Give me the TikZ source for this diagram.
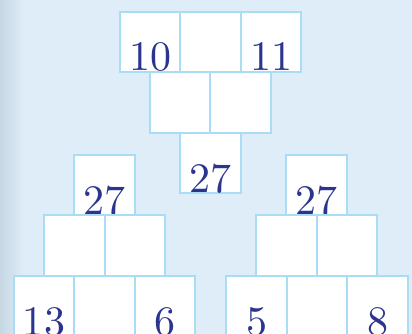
\documentclass[tikz,border=0pt]{standalone}
\usepackage{fontspec}
\usepackage{tikz}
\usetikzlibrary{positioning}

\newfontfamily\numfont{lmroman10-regular.otf}

\definecolor{bgblue}{HTML}{DFEDF9}
\definecolor{edgeblue}{HTML}{C6D6E2}
\definecolor{cellline}{HTML}{A9DDF6}
\definecolor{numblue}{HTML}{2B3590}

\begin{document}
\begin{tikzpicture}[
        x=1pt, y=-1pt,
        cell/.style={draw=cellline, fill=white, line width=2pt, inner sep=0pt,
            minimum width=60.5pt, minimum height=60.5pt,
            text height=59pt, text depth=1pt, text=numblue,
            font=\numfont\fontsize{42}{42}\selectfont},
    ]
    \useasboundingbox (0,0) rectangle (412,334);
    \clip (0,0) rectangle (412,334);
    \fill[bgblue] (0,0) rectangle (412,334);
    \shade[left color=edgeblue, right color=bgblue] (0,0) rectangle (24,334);

    % upper pyramid
    \node[cell] (upA) at (150,42)    {10};
    \node[cell] (upB) at (210.5,42)  {};
    \node[cell] (upC) at (271,42)    {11};
    \node[cell] (upD) at (180,102.5) {};
    \node[cell] (upE) at (240.5,102.5) {};
    \node[cell] (upF) at (210.5,163) {27};

    % left pyramid
    \node[cell] (lfA) at (104.5,185)  {27};
    \node[cell] (lfB) at (74.5,245.5) {};
    \node[cell] (lfC) at (135,245.5)  {};
    \node[cell] (lfD) at (44,306)     {13};
    \node[cell] (lfE) at (104.5,306)  {};
    \node[cell] (lfF) at (165,306)    {6};

    % right pyramid
    \node[cell] (rtA) at (316.5,185)  {27};
    \node[cell] (rtB) at (286.5,245.5) {};
    \node[cell] (rtC) at (347,245.5)  {};
    \node[cell] (rtD) at (256.5,306)  {5};
    \node[cell] (rtE) at (317,306)    {};
    \node[cell] (rtF) at (377.5,306)  {8};
\end{tikzpicture}
\end{document}
